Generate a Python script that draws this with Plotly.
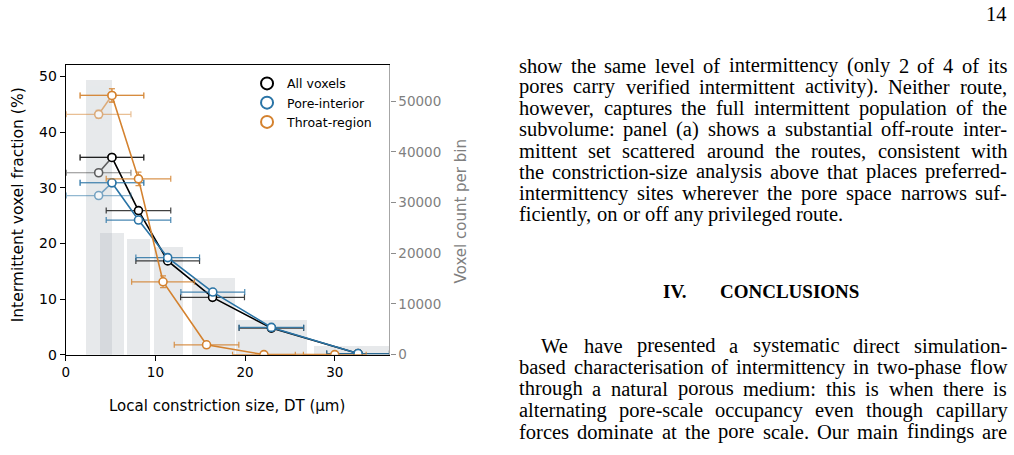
import plotly.graph_objects as go

W, H = 1014, 455

# ---------------- data ----------------
bin_lo = [2.19, 3.78, 6.81, 9.78, 14.03, 18.97, 27.63]
bin_hi = [5.08, 6.52, 9.41, 13.0, 18.86, 26.92, 37.0]
bin_count = [54300, 24100, 22900, 21200, 15200, 6800, 1800]

x_all = [3.67, 5.15, 8.11, 11.37, 16.37, 22.93, 32.6]
y_all = [32.7, 35.45, 25.9, 16.85, 10.3, 4.77, 0.2]
xerr_all = [3.6, 3.55, 3.6, 3.55, 3.56, 3.6, 3.5]
yerr_all = [0.4, 0.4, 0.4, 0.3, 0.3, 0.2, 0.1]

x_pore = [3.67, 5.15, 8.11, 11.37, 16.4, 22.93, 32.6]
y_pore = [28.6, 30.9, 24.2, 17.45, 11.25, 4.9, 0.2]
xerr_pore = [3.6, 3.55, 3.6, 3.55, 3.56, 3.6, 3.5]
yerr_pore = [0.5, 0.5, 0.5, 0.4, 0.4, 0.3, 0.1]

x_throat = [3.67, 5.15, 8.11, 10.85, 15.7, 22.1, 30.0]
y_throat = [43.2, 46.6, 31.6, 13.1, 1.77, 0.0, 0.0]
xerr_throat = [3.6, 3.55, 3.6, 3.5, 3.6, 3.5, 3.5]
yerr_throat = [0.7, 1.2, 1.2, 1.05, 0.3, 0.1, 0.1]

series_names = ["All voxels", "Pore-interior", "Throat-region"]
x_ticks = [0, 10, 20, 30]
y_ticks = [0, 10, 20, 30, 40, 50]
count_ticks = [0, 10000, 20000, 30000, 40000, 50000]

para1 = [
    "show the same level of intermittency (only 2 of 4 of its",
    "pores carry verified intermittent activity). Neither route,",
    "however, captures the full intermittent population of the",
    "subvolume: panel (a) shows a substantial off-route inter-",
    "mittent set scattered around the routes, consistent with",
    "the constriction-size analysis above that places preferred-",
    "intermittency sites wherever the pore space narrows suf-",
    "ficiently, on or off any privileged route.",
]
heading_num = "IV."
heading_txt = "CONCLUSIONS"
para2 = [
    "We have presented a systematic direct simulation-",
    "based characterisation of intermittency in two-phase flow",
    "through a natural porous medium: this is when there is",
    "alternating pore-scale occupancy even though capillary",
    "forces dominate at the pore scale. Our main findings are",
]
page_no = "14"

# ---------------- styles ----------------
C_BLACK = "#000000"
C_BLUE = "#2a74a6"
C_ORANGE = "#d4822f"
SANS = "DejaVu Sans"
SERIF = "Liberation Serif"
BODY = 20.5

# Times / Liberation Serif advance widths (per 1000 em)
ADV = dict(zip("abcdefghijklmnopqrstuvwxyz",
               [444, 500, 444, 500, 444, 333, 500, 500, 278, 278, 500, 278, 778,
                500, 500, 500, 500, 333, 389, 278, 500, 500, 722, 500, 500, 444]))
ADV.update({"N": 722, "W": 944, "O": 722, "(": 333, ")": 333, ".": 250, ",": 250,
            ":": 278, "-": 333, "2": 500, "4": 500, " ": 250})

def text_w(s, size):
    return sum(ADV.get(c, 500) for c in s) / 1000 * size

def fx(px):
    return px / W

def fy(py):
    return 1 - py / H

fig = go.Figure()

centers = [(a + b) / 2 for a, b in zip(bin_lo, bin_hi)]
widths = [b - a for a, b in zip(bin_lo, bin_hi)]
fig.add_trace(go.Bar(
    x=centers, y=bin_count, width=widths,
    marker=dict(color="rgba(176,182,190,0.30)", line=dict(width=0)),
    showlegend=False, yaxis="y", xaxis="x", hoverinfo="skip",
))

def add_series(xs, ys, xe, ye, color, err_color, name):
    for sl, op in ((slice(0, 2), 0.6), (slice(1, None), 1.0)):
        fig.add_trace(go.Scatter(
            x=xs[sl], y=ys[sl], mode="lines+markers",
            line=dict(color=color, width=1.6),
            marker=dict(symbol="circle", size=8, color="white",
                        line=dict(color=color, width=1.6)),
            error_x=dict(type="data", array=xe[sl], color=err_color,
                         thickness=1.2, width=3),
            error_y=dict(type="data", array=ye[sl], color=err_color,
                         thickness=1.2, width=3),
            opacity=op, showlegend=False, yaxis="y2", xaxis="x",
        ))
    fig.add_trace(go.Scatter(
        x=[None], y=[None], mode="markers", name=name,
        marker=dict(symbol="circle", size=8, color="white",
                    line=dict(color=color, width=1.8)),
        yaxis="y2", xaxis="x",
    ))

add_series(x_all, y_all, xerr_all, yerr_all, C_BLACK, "rgba(0,0,0,0.75)", series_names[0])
add_series(x_pore, y_pore, xerr_pore, yerr_pore, C_BLUE, "rgba(42,116,166,0.85)", series_names[1])
add_series(x_throat, y_throat, xerr_throat, yerr_throat, C_ORANGE, "rgba(212,130,47,0.85)", series_names[2])

x0, x1 = 62, 387
y0, y1 = 66, 361

def ann(text, px, py, xa="center", ya="middle", **kw):
    d = dict(text=text, x=fx(px), y=fy(py), xref="paper", yref="paper",
             xanchor=xa, yanchor=ya, showarrow=False)
    d.update(kw)
    return d

annotations = []
annotations.append(ann("Local constriction size, DT (\u03bcm)", 224, 413,
                       font=dict(family=SANS, size=15, color="#000")))
annotations.append(ann("Intermittent voxel fraction (%)", 14, 208, textangle=-90,
                       font=dict(family=SANS, size=15.5, color="#000")))
annotations.append(ann("Voxel count per bin", 459, 215, textangle=-90,
                       font=dict(family=SANS, size=15, color="#7f7f7f")))

PAD = 2  # annotation box padding

def paragraph(lines, x_left, x_right, y_start, step, ragged_last, indent=0):
    out = []
    font = dict(family=SERIF, size=BODY, color="#000")
    for i, line in enumerate(lines):
        py = y_start + step * i
        xl = x_left + (indent if i == 0 else 0)
        words = line.split(" ")
        ww = [text_w(w, BODY) for w in words]
        if ragged_last and i == len(lines) - 1:
            gap = text_w(" ", BODY)
        else:
            gap = (x_right - xl - sum(ww)) / (len(words) - 1)
        x = xl
        for w, wdt in zip(words, ww):
            out.append(ann(w, x - PAD, py, xa="left", font=font))
            x += wdt + gap
    return out

annotations += paragraph(para1, 517, 1007, 66.7, 21.66, ragged_last=True)
hfont = dict(family=SERIF, size=19, color="#000")
annotations.append(ann("<b>" + heading_num + "</b>", 673.5, 297, font=hfont))
annotations.append(ann("<b>" + heading_txt + "</b>", 788.5, 297, font=hfont))
annotations += paragraph(para2, 517, 1007, 351.7, 21.9, ragged_last=False, indent=22)
annotations.append(ann(page_no, 1007 + PAD, 14, xa="right",
                       font=dict(family=SERIF, size=BODY, color="#000")))

fig.update_layout(
    width=W, height=H, autosize=False,
    margin=dict(l=0, r=0, t=0, b=0),
    paper_bgcolor="white", plot_bgcolor="rgba(0,0,0,0)",
    barmode="overlay", bargap=0,
    showlegend=True,
    legend=dict(x=fx(244), y=fy(70), xanchor="left", yanchor="top",
                bgcolor="rgba(0,0,0,0)", borderwidth=0,
                font=dict(family=SANS, size=12.5, color="#000"),
                tracegroupgap=0, itemsizing="constant"),
    xaxis=dict(domain=[fx(x0), fx(x1)], range=[0, 36.1], tickvals=x_ticks,
               showline=True, linecolor="#000", linewidth=1.3, mirror=True,
               ticks="outside", ticklen=5, tickwidth=1.2, tickcolor="#000",
               showgrid=False, zeroline=False,
               tickfont=dict(family=SANS, size=13.5, color="#000")),
    yaxis=dict(domain=[fy(y1), fy(y0)], range=[0, 57200], tickvals=count_ticks,
               tickformat="d", side="right", anchor="x",
               showline=True, linecolor="#a6a6a6", linewidth=1.3,
               ticks="outside", ticklen=5, tickwidth=1.2, tickcolor="#8c8c8c",
               showgrid=False, zeroline=False,
               tickfont=dict(family=SANS, size=13.5, color="#7f7f7f")),
    yaxis2=dict(domain=[fy(y1), fy(y0)], range=[0, 52.1], tickvals=y_ticks,
                overlaying="y", side="left", anchor="x",
                showline=True, linecolor="#000", linewidth=1.3,
                ticks="outside", ticklen=5, tickwidth=1.2, tickcolor="#000",
                showgrid=False, zeroline=False,
                tickfont=dict(family=SANS, size=14, color="#000")),
    annotations=annotations,
)

fig.write_html("out.html")
